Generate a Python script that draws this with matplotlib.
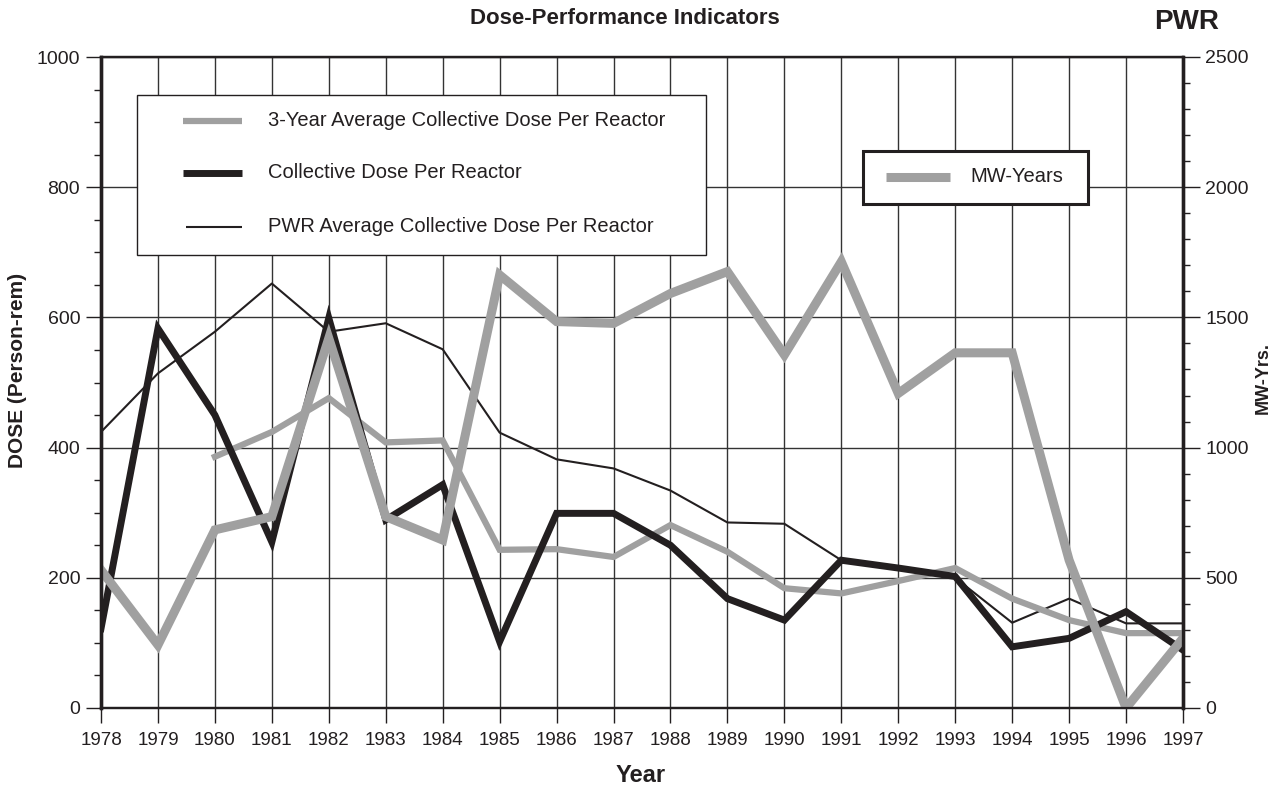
import matplotlib
matplotlib.use("Agg")
import matplotlib.pyplot as plt
from matplotlib.ticker import MultipleLocator
from matplotlib.lines import Line2D
from matplotlib.patches import Rectangle
from matplotlib import font_manager

years = list(range(1978, 1998))

# PWR average collective dose per reactor (person-rem)
pwr_avg_dose = [424, 514, 578, 652, 578, 591, 551, 423, 382, 368,
                334, 285, 283, 227, 215, 200, 131, 168, 130, 130]

# collective dose per reactor (person-rem)
collective_dose = [122, 583, 450, 255, 599, 289, 343, 102, 299, 299,
                   250, 168, 135, 227, 215, 202, 94, 107, 148, 89]

# 3-year rolling average, starts in 1980
avg3_years = list(range(1980, 1998))
avg3_dose = [386, 424, 476, 408, 411, 243, 244, 232, 281, 240,
             184, 176, 195, 215, 168, 135, 115, 115]

# megawatt-years (right axis)
mw_years = [530, 242, 684, 735, 1420, 735, 645, 1663, 1484, 1477,
            1592, 1676, 1356, 1714, 1208, 1364, 1364, 568, 0, 268]

names = {f.name for f in font_manager.fontManager.ttflist}
narrow = "Liberation Sans Narrow" if "Liberation Sans Narrow" in names else "Liberation Sans"
plt.rcParams["font.family"] = [narrow, "DejaVu Sans"]

black = "#231f20"
grey = "#a0a0a0"

W, H = 1277, 786
fig = plt.figure(figsize=(W / 100, H / 100), dpi=100)
ax = fig.add_axes([101 / W, 1 - 708 / H, 1082 / W, 651 / H])
ax2 = ax.twinx()

ax.plot(years, pwr_avg_dose, color=black, lw=1.5, zorder=3)
ax.plot(avg3_years, avg3_dose, color=grey, lw=4.5, zorder=4,
        solid_joinstyle="miter")
ax.plot(years, collective_dose, color=black, lw=5, zorder=5,
        solid_joinstyle="miter")
ax2.plot(years, mw_years, color=grey, lw=6.5, solid_joinstyle="miter")

ax.set_xlim(1978, 1997)
ax.set_ylim(0, 1000)
ax2.set_ylim(0, 2500)

ax.set_xticks(years)
ax.yaxis.set_major_locator(MultipleLocator(200))
ax.yaxis.set_minor_locator(MultipleLocator(50))
ax2.yaxis.set_major_locator(MultipleLocator(500))
ax2.yaxis.set_minor_locator(MultipleLocator(100))

ax.grid(True, which="major", color="#333333", lw=1.0, zorder=0)
ax.set_axisbelow(True)

ax.tick_params(axis="x", direction="out", length=11, width=1, labelsize=13.5,
               pad=6, colors=black)
ax.tick_params(axis="y", which="major", direction="out", length=11, width=1,
               labelsize=14, pad=4, colors=black)
ax.tick_params(axis="y", which="minor", direction="out", length=5, width=1,
               colors=black)
ax2.tick_params(axis="y", which="major", direction="out", length=12, width=1,
                labelsize=14, pad=4, colors=black)
ax2.tick_params(axis="y", which="minor", direction="out", length=5, width=1,
                colors=black)

for a in (ax, ax2):
    a.spines["left"].set_linewidth(2.4)
    a.spines["right"].set_linewidth(2.4)
    a.spines["top"].set_linewidth(1.6)
    a.spines["bottom"].set_linewidth(1.6)
    for s in a.spines.values():
        s.set_color(black)


def fx(px):
    return px / W


def fy(py):
    return 1 - py / H


def legend_box(x0, y0, x1, y1, lw):
    fig.add_artist(Rectangle((fx(x0), fy(y1)), fx(x1) - fx(x0), fy(y0) - fy(y1),
                             transform=fig.transFigure, facecolor="white",
                             edgecolor=black, lw=lw, zorder=10))


def legend_entry(y, hx0, hx1, tx, color, lw, text):
    fig.add_artist(Line2D([fx(hx0), fx(hx1)], [fy(y), fy(y)],
                          transform=fig.transFigure, color=color, lw=lw,
                          solid_capstyle="butt", zorder=11))
    fig.text(fx(tx), fy(y), text, ha="left", va="center", fontsize=14.5,
             color=black, zorder=11)


# dose series legend
legend_box(137, 95, 706, 255, 1.0)
legend_entry(121, 183, 242, 268, grey, 4.5,
             "3-Year Average Collective Dose Per Reactor")
legend_entry(173, 183, 242, 268, black, 5,
             "Collective Dose Per Reactor")
legend_entry(227, 186, 242, 268, black, 1.5,
             "PWR Average Collective Dose Per Reactor")

# MW-years legend
legend_box(863, 151, 1088, 204, 2.2)
legend_entry(177, 886, 950, 970, grey, 6.5, "MW-Years")

fig.text(625 / W, 1 - 18 / H, "Dose-Performance Indicators",
         ha="center", va="center", fontsize=16, fontweight="bold", color=black)
fig.text(1187 / W, 1 - 22 / H, "PWR", ha="center", va="center",
         fontsize=20, fontweight="bold", color=black)
fig.text(18 / W, 1 - 370 / H, "DOSE (Person-rem)", rotation=90,
         ha="center", va="center", fontsize=15, fontweight="bold", color=black)
fig.text(1263 / W, 1 - 378 / H, "MW-Yrs.", rotation=90,
         ha="center", va="center", fontsize=13, fontweight="bold", color=black)
fig.text(641 / W, 1 - 775 / H, "Year", ha="center", va="center",
         fontsize=17, fontweight="bold", color=black)

fig.savefig("out.png", dpi=100, facecolor="white")
